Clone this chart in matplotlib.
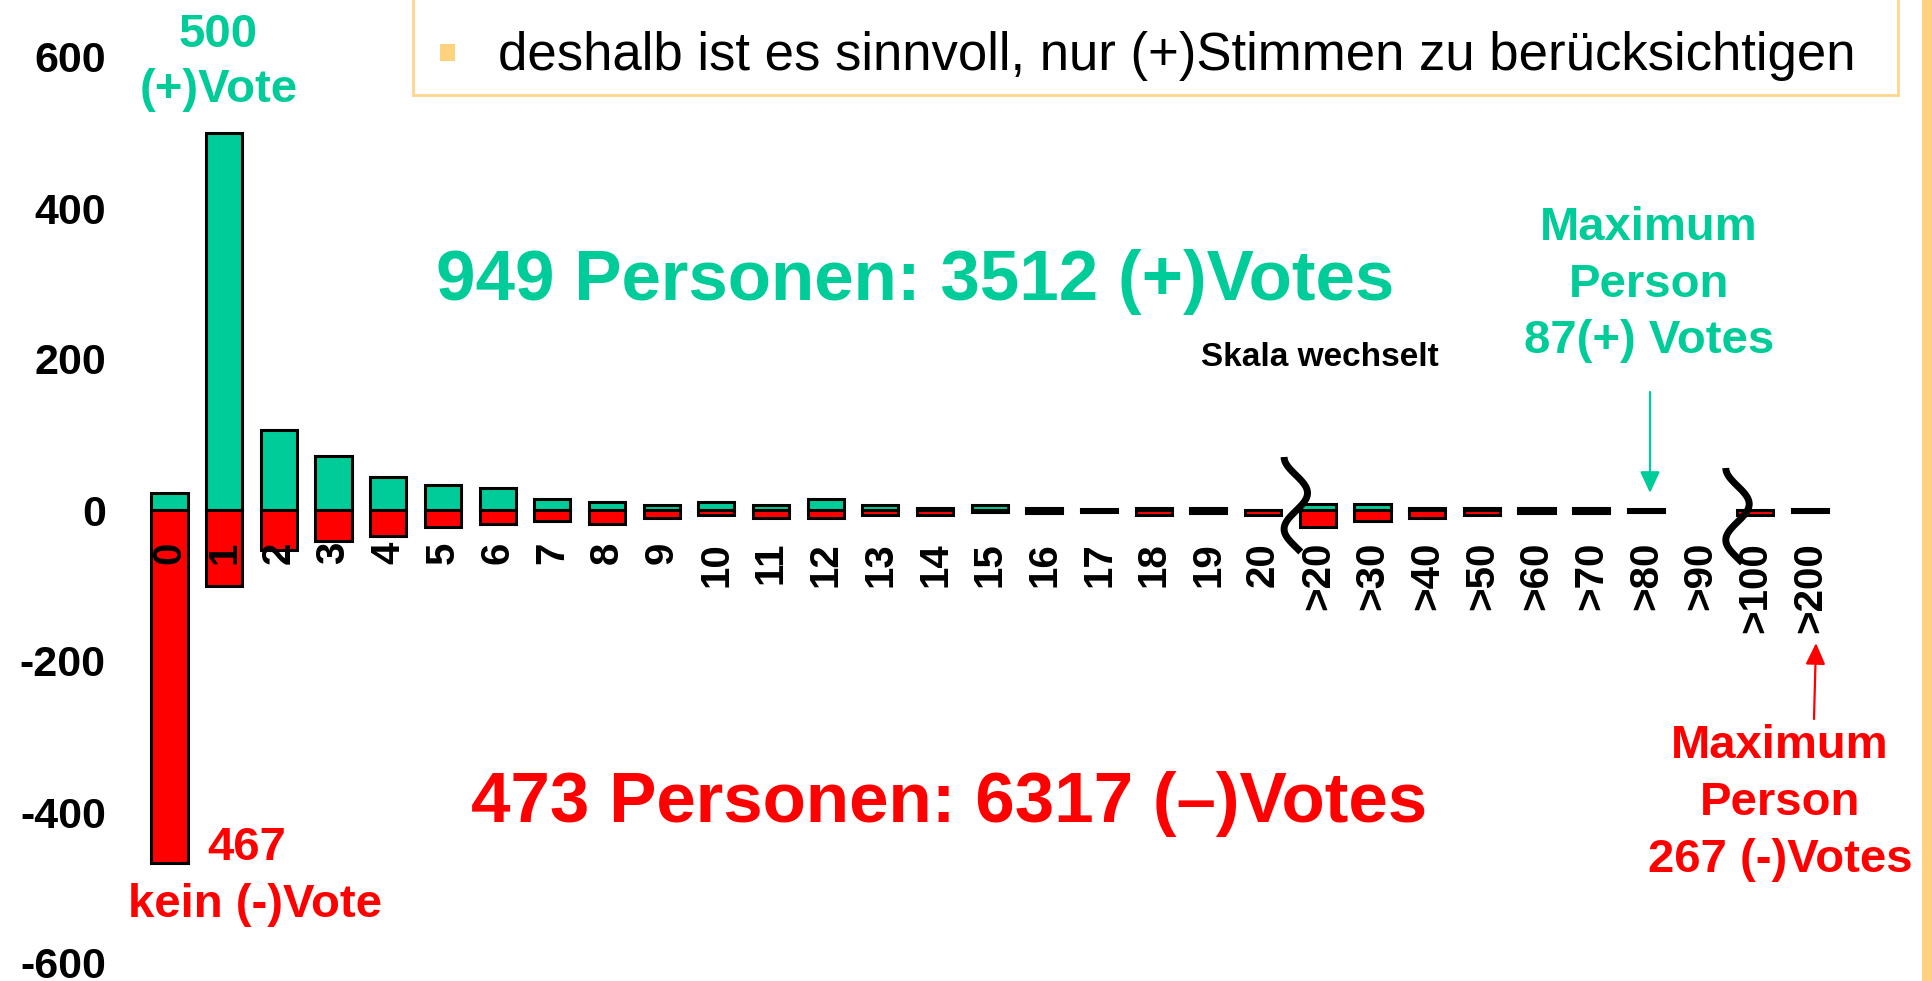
import matplotlib
matplotlib.use("Agg")
import matplotlib.pyplot as plt
import numpy as np
from matplotlib.patches import Rectangle

# ---------------- data ----------------
categories = [str(i) for i in range(21)] + [">20", ">30", ">40", ">50", ">60",
                                            ">70", ">80", ">90", ">100", ">200"]
plus_votes = [22, 500, 106, 71, 44, 33, 29, 14, 10, 6, 11, 6, 15, 6, 3, 6, 3, 1, 3, 3, 0,
              8, 8, 3, 3, 3, 3, 1, 0, 0, 1]
minus_votes = [467, 100, 53, 41, 34, 22, 19, 14, 19, 11, 7, 11, 11, 7, 7, 3, 4, 2, 7, 4, 7,
               23, 15, 11, 7, 4, 4, 2, 0, 6, 2]
y_ticks = [-600, -400, -200, 0, 200, 400, 600]
y_tick_labels = ["-600", "-400", "-200", "0", "200", "400", "600"]

GREEN = "#00CC99"
RED = "#FF0000"
ORANGE = "#FFD27F"

plt.rcParams["font.family"] = ["Liberation Sans", "DejaVu Sans"]

W, H = 1933, 981
fig = plt.figure(figsize=(W / 100, H / 100), dpi=100)

# layout (reference pixels)
X0, DX = 169.5, 54.68      # centre of first category, spacing
Y0, DY = 510.0, 0.755      # zero line, px per unit
ax_left, ax_right = 110, 1900
ax = fig.add_axes([ax_left / W, (H - (Y0 + 600 * DY)) / H,
                   (ax_right - ax_left) / W, 1200 * DY / H])
ax.set_xlim((ax_left - X0) / DX, (ax_right - X0) / DX)
ax.set_ylim(-600, 600)


def px_x(px):
    return (px - X0) / DX


def px_y(py):
    return (Y0 - py) / DY


x = np.arange(len(categories))
gbars = ax.bar(x, plus_votes, width=0.66, color=GREEN, edgecolor="black", linewidth=2.2)
rbars = ax.bar(x, -np.array(minus_votes), width=0.66, color=RED, edgecolor="black",
               linewidth=2.2)
for p in list(gbars) + list(rbars):
    if p.get_height() == 0:
        p.set_visible(False)

for s in ax.spines.values():
    s.set_visible(False)
ax.spines["bottom"].set_position(("data", 0))
ax.set_xticks(x, categories)
ax.tick_params(axis="x", length=0, pad=23, labelsize=29, labelrotation=90)
ax.set_yticks(y_ticks, y_tick_labels)
ax.tick_params(axis="y", length=0, pad=3, labelsize=31)
for lbl in ax.get_xticklabels() + ax.get_yticklabels():
    lbl.set_fontweight("bold")
    lbl.set_color("black")

bold = dict(fontweight="bold", ha="center", va="baseline", clip_on=False)

# annotations
ax.text(px_x(218), px_y(47), "500", color=GREEN, fontsize=34, **bold)
ax.text(px_x(219), px_y(102), "(+)Vote", color=GREEN, fontsize=34, **bold)
ax.text(px_x(247), px_y(860), "467", color=RED, fontsize=34, **bold)
ax.text(px_x(255), px_y(917), "kein (-)Vote", color=RED, fontsize=34, **bold)

ax.text(px_x(915), px_y(300), "949 Personen: 3512 (+)Votes", color=GREEN, fontsize=51, **bold)
ax.text(px_x(949), px_y(822), "473 Personen: 6317 (\u2013)Votes", color=RED, fontsize=51, **bold)
ax.text(px_x(1320), px_y(366), "Skala wechselt", color="black", fontsize=24, **bold)

for txt, by in [("Maximum", 240), ("Person", 297), ("87(+) Votes", 353)]:
    ax.text(px_x(1649), px_y(by), txt, color=GREEN, fontsize=34, **bold)
for txt, by in [("Maximum", 758), ("Person", 815), ("267 (-)Votes", 872)]:
    ax.text(px_x(1780), px_y(by), txt, color=RED, fontsize=34, **bold)

ax.annotate("", xy=(px_x(1650), px_y(493)), xytext=(px_x(1650), px_y(392)),
            arrowprops=dict(arrowstyle="-|>,head_length=1.3,head_width=0.6",
                            mutation_scale=10, color=GREEN, lw=1.6,
                            shrinkA=0, shrinkB=0))
ax.annotate("", xy=(px_x(1816), px_y(643)), xytext=(px_x(1814), px_y(719)),
            arrowprops=dict(arrowstyle="-|>,head_length=1.3,head_width=0.6",
                            mutation_scale=10, color=RED, lw=1.6,
                            shrinkA=0, shrinkB=0))

# scale-break squiggles
for xc, ytop in [(1295.8, 457), (1737.5, 468)]:
    yy = np.linspace(ytop, ytop + 95, 80)
    xx = xc - 11.7 * np.cos(2 * np.pi * (yy - ytop) / 72)
    ax.plot(px_x(xx), px_y(yy), color="black", lw=5, solid_capstyle="butt",
            clip_on=False, zorder=5)

# slide decorations: text box, bullet and right edge bar
fig.add_artist(Rectangle((413 / W, 1 - 95 / H), (1898 - 413) / W, 0.3,
                         transform=fig.transFigure, facecolor="white",
                         edgecolor="#FFD58C", lw=2, zorder=3))
fig.add_artist(Rectangle((440 / W, 1 - 61 / H), 15 / W, 17 / H,
                         transform=fig.transFigure, color=ORANGE, lw=0, zorder=4))
fig.text(498 / W, 1 - 70 / H, "deshalb ist es sinnvoll, nur (+)Stimmen zu berücksichtigen",
         fontsize=38, ha="left", va="baseline", color="black", zorder=4)
fig.add_artist(Rectangle((1922 / W, 0), 11 / W, 1, transform=fig.transFigure,
                         color=ORANGE, lw=0, zorder=4))

fig.savefig("out.png", dpi=100)
